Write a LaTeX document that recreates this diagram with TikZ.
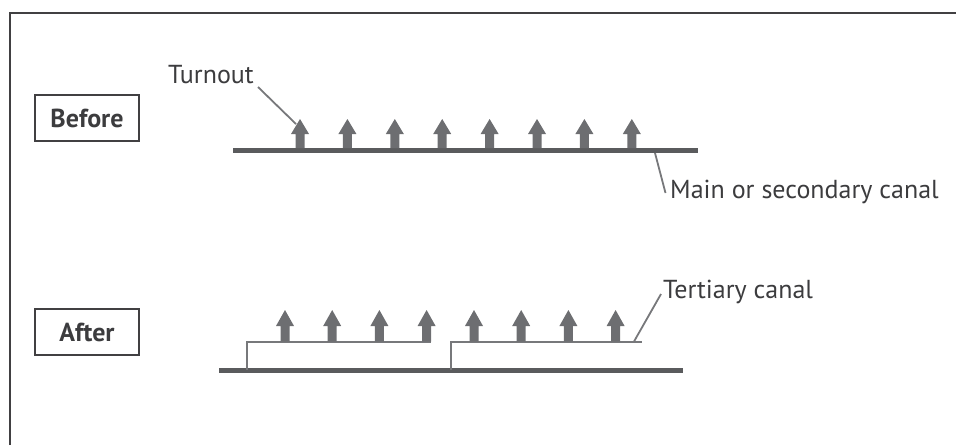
\documentclass[tikz,border=0pt]{standalone}
\usepackage{fontspec}
\setmainfont{PT Sans}
\definecolor{framec}{HTML}{414042}
\definecolor{textc}{HTML}{3C3C3E}
\definecolor{arrowc}{HTML}{6D6E71}
\definecolor{canalc}{HTML}{5A5B5D}
\definecolor{tertc}{HTML}{77787B}
\newcommand{\turnoutarrow}[4]{% x, bottom, headbase, tip
  \fill[arrowc] (#1-4.5,#2) -- (#1-4.5,#3) -- (#1-9,#3) -- (#1,#4) -- (#1+9,#3) -- (#1+4.5,#3) -- (#1+4.5,#2) -- cycle;}
\tikzset{
  labelbox/.style={draw=framec, line width=2.2, minimum width=104, minimum height=46, inner sep=0, text=textc, font=\fontsize{26}{30}\selectfont\bfseries},
  txt/.style={text=textc, inner sep=0, font=\fontsize{26}{31}\selectfont},
  leader/.style={draw=tertc, line width=1.8},
  maincanal/.style={draw=canalc, line width=5},
  tertcanal/.style={draw=tertc, line width=2},
}
\begin{document}
\begin{tikzpicture}[x=1pt,y=-1pt]
\useasboundingbox (0,0) rectangle (956,445);
\draw[framec, line width=2.5] (10,445) -- (10,13) -- (957,13);
% labels
\node[labelbox] (before) at (87,118) {Before};
\node[labelbox] (after) at (87,332) {After};
% Before
\draw[maincanal] (233,150.5) coordinate (m1) -- (698,150.5) coordinate (m2);
\foreach \x in {300,347.4,394.8,442.2,489.6,537,584.4,631.8}
  \turnoutarrow{\x}{148}{134}{119};
\node[txt, anchor=base west] (turn) at (168,83) {Turnout};
\coordinate (t1) at (258,87);
\coordinate (t2) at (296,124);
\draw[leader] (t1) -- (t2);
\node[txt, anchor=base west] (main) at (670,198) {Main or secondary canal};
\coordinate (c1) at (655,153);
\coordinate (c2) at (665.5,193);
\draw[leader] (c1) -- (c2);
% After
\draw[maincanal] (219,370.5) coordinate (a1) -- (683,370.5) coordinate (a2);
\draw[tertcanal] (247.3,370) coordinate (l0) -- (247.3,342.3) -- (431,342.3) coordinate (l1);
\draw[tertcanal] (450.7,370) coordinate (r0) -- (450.7,342.3) -- (642,342.3) coordinate (r1);
\foreach \x in {285,332.2,379.4,426.6,474,521.2,568.4,615.6}
  \turnoutarrow{\x}{341.5}{326}{310};
\node[txt, anchor=base west] (tert) at (663,298) {Tertiary canal};
\coordinate (e1) at (634,341.5);
\coordinate (e2) at (661,294);
\draw[leader] (e1) -- (e2);
\end{tikzpicture}
\end{document}
